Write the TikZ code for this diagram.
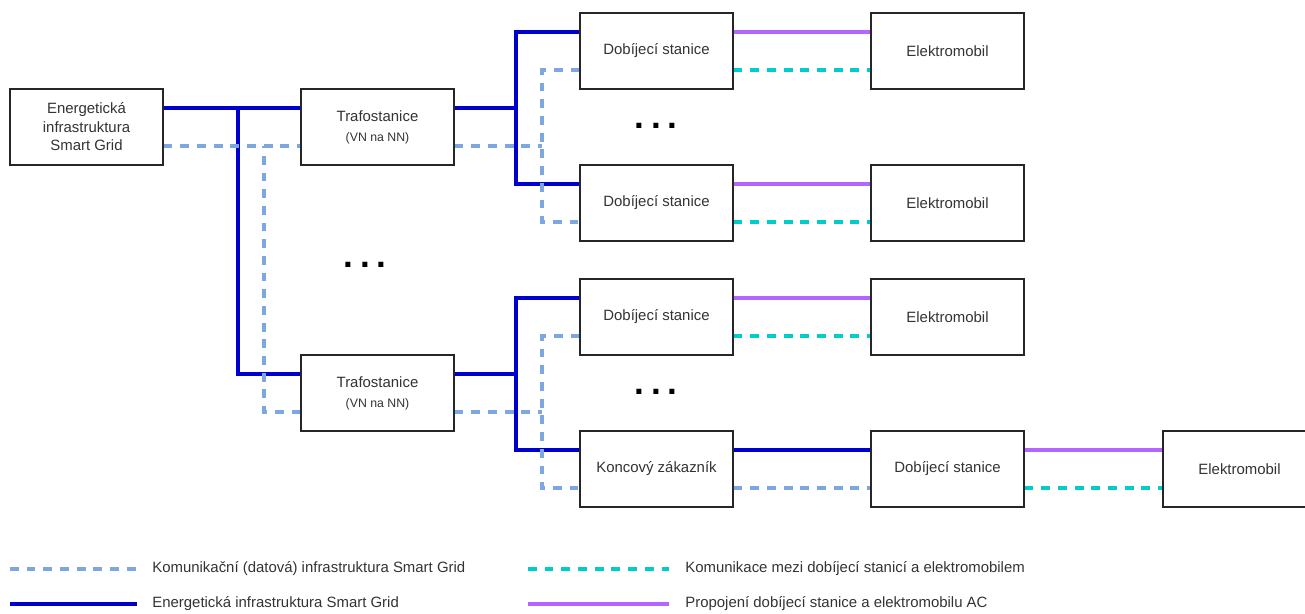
\documentclass[tikz,border=0pt]{standalone}
\usepackage{fontspec}
\setmainfont{Liberation Sans}
\usetikzlibrary{calc,positioning}
\definecolor{powerblue}{HTML}{0000CC}
\definecolor{commblue}{HTML}{7EA6E0}
\definecolor{evcyan}{HTML}{00CCCC}
\definecolor{acviolet}{HTML}{B266FF}
\definecolor{txtgrey}{HTML}{333333}

\begin{document}
\begin{tikzpicture}[x=0.02cm,y=-0.02cm]
\tikzstyle{unit}=[rectangle, draw=black!85, line width=0.75pt, fill=white, minimum width=3.06cm, minimum height=1.52cm, inner sep=0pt, align=center, text=txtgrey, font=\fontsize{8.5}{10.5}\selectfont]
\tikzstyle{power}=[draw=powerblue, line width=2.1pt]
\tikzstyle{comm}=[draw=commblue, line width=1.8pt, dash pattern=on 5pt off 4.5pt]
\tikzstyle{evcomm}=[draw=evcyan, line width=1.8pt, dash pattern=on 5pt off 4.5pt]
\tikzstyle{ac}=[draw=acviolet, line width=2.1pt]
\tikzstyle{more}=[inner sep=0pt, font=\fontsize{20}{20}\selectfont\bfseries]
\tikzstyle{legend}=[anchor=west, inner sep=0pt, text=txtgrey, font=\fontsize{8.5}{10}\selectfont]

\useasboundingbox (0,0) rectangle (1305,614);

% grid side
\node[unit] (en) at (86.5,127) {Energetická\\infrastruktura\\Smart Grid};
\node[unit] (tr1) at (377.5,127) {Trafostanice\\[1pt]{\fontsize{7}{8}\selectfont (VN na NN)}};
\node[unit] (tr2) at (377.5,393) {Trafostanice\\[1pt]{\fontsize{7}{8}\selectfont (VN na NN)}};

% charging stations and cars
\node[unit] (ds1) at (656.5,51) {Dobíjecí stanice};
\node[unit] (em1) at (947.5,51) {Elektromobil};
\node[unit] (ds2) at (656.5,203) {Dobíjecí stanice};
\node[unit] (em2) at (947.5,203) {Elektromobil};
\node[unit] (ds3) at (656.5,317) {Dobíjecí stanice};
\node[unit] (em3) at (947.5,317) {Elektromobil};
\node[unit] (kz) at (656.5,469) {Koncový zákazník};
\node[unit] (ds4) at (947.5,469) {Dobíjecí stanice};
\node[unit] (em4) at (1239.5,469) {Elektromobil};

\node[more] (dots1) at (365,265) {.\hspace{4pt}.\hspace{4pt}.};
\node[more] (dots2) at (656,126) {.\hspace{4pt}.\hspace{4pt}.};
\node[more] (dots3) at (656,392) {.\hspace{4pt}.\hspace{4pt}.};

% junctions
\coordinate (pA) at (238,108);
\coordinate (cA) at (264,146);
\coordinate (pB) at (516,108);
\coordinate (cB) at (542,146);
\coordinate (pC) at (516,374);
\coordinate (cC) at (542,412);

% energy
\draw[power] ($(en.east)+(0,-19)$) -- ($(tr1.west)+(0,-19)$);
\draw[power] ($(tr2.west)+(0,-19)$) -| (pA);
\draw[power] ($(tr1.east)+(0,-19)$) -- (pB);
\draw[power] ($(ds1.west)+(0,-19)$) -| (pB) |- ($(ds2.west)+(0,-19)$);
\draw[power] ($(tr2.east)+(0,-19)$) -- (pC);
\draw[power] ($(ds3.west)+(0,-19)$) -| (pC) |- ($(kz.west)+(0,-19)$);
\draw[power] ($(kz.east)+(0,-19)$) -- ($(ds4.west)+(0,-19)$);

% communication
\draw[comm] ($(en.east)+(0,19)$) -- ($(tr1.west)+(0,19)$);
\draw[comm] ($(tr2.west)+(0,19)$) -| (cA);
\draw[comm] ($(tr1.east)+(0,19)$) -- (cB);
\draw[comm] ($(ds1.west)+(0,19)$) -| (cB) |- ($(ds2.west)+(0,19)$);
\draw[comm] ($(tr2.east)+(0,19)$) -- (cC);
\draw[comm] ($(ds3.west)+(0,19)$) -| (cC) |- ($(kz.west)+(0,19)$);
\draw[comm] ($(kz.east)+(0,19)$) -- ($(ds4.west)+(0,19)$);

% station to car
\draw[ac] ($(ds1.east)+(0,-19)$) -- ($(em1.west)+(0,-19)$);
\draw[ac] ($(ds2.east)+(0,-19)$) -- ($(em2.west)+(0,-19)$);
\draw[ac] ($(ds3.east)+(0,-19)$) -- ($(em3.west)+(0,-19)$);
\draw[ac] ($(ds4.east)+(0,-19)$) -- ($(em4.west)+(0,-19)$);
\draw[evcomm] ($(ds1.east)+(0,19)$) -- ($(em1.west)+(0,19)$);
\draw[evcomm] ($(ds2.east)+(0,19)$) -- ($(em2.west)+(0,19)$);
\draw[evcomm] ($(ds3.east)+(0,19)$) -- ($(em3.west)+(0,19)$);
\draw[evcomm] ($(ds4.east)+(0,19)$) -- ($(em4.west)+(0,19)$);

% legend
\coordinate (l1a) at (10,569);
\coordinate (l1b) at (137,569);
\coordinate (l2a) at (10,604);
\coordinate (l2b) at (137,604);
\coordinate (l3a) at (528,569);
\coordinate (l3b) at (669,569);
\coordinate (l4a) at (528,604);
\coordinate (l4b) at (669,604);
\draw[comm] (l1a) -- (l1b);
\draw[power] (l2a) -- (l2b);
\draw[evcomm] (l3a) -- (l3b);
\draw[ac] (l4a) -- (l4b);
\node[legend] (t1) at (152,569) {Komunikační (datová) infrastruktura Smart Grid};
\node[legend] (t2) at (152,604) {Energetická infrastruktura Smart Grid};
\node[legend] (t3) at (685,569) {Komunikace mezi dobíjecí stanicí a elektromobilem};
\node[legend] (t4) at (685,604) {Propojení dobíjecí stanice a elektromobilu AC};

\end{tikzpicture}
\end{document}
